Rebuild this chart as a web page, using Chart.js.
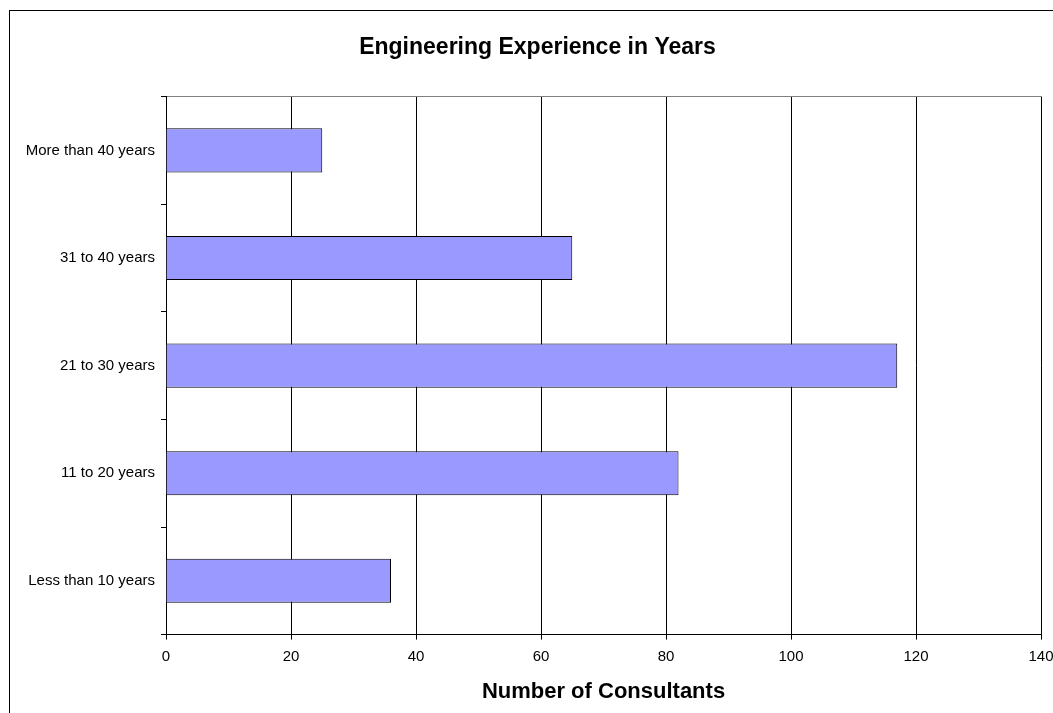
<!DOCTYPE html>
<html>
<head>
<meta charset="utf-8">
<script src="https://cdn.jsdelivr.net/npm/chart.js@4/dist/chart.umd.min.js"></script>
<style>
    body { margin: 0; background: #fff; overflow: hidden; }
    #box {
        position: absolute;
        left: 9px;
        top: 10px;
        width: 1100px;
        height: 740px;
        border: 1px solid #000;
    }
</style>
</head>
<body>
<div id="box"><canvas id="chart" width="1100" height="740"></canvas></div>
<script>
// Data
const categories = ['More than 40 years', '31 to 40 years', '21 to 30 years', '11 to 20 years', 'Less than 10 years'];
const consultants = [25, 65, 117, 82, 36];
const xTicks = [0, 20, 40, 60, 80, 100, 120, 140];

const font = 'Liberation Sans, Arial, sans-serif';

// Centre the title on the box (minus a bit), not on the padded area
const titleWide = {
    id: 'titleWide',
    afterLayout(chart) {
        chart.titleBlock.left = 0;
        chart.titleBlock.right = chart.width - 45;
        chart.titleBlock.width = chart.width - 45;
    }
};

new Chart(document.getElementById('chart'), {
    type: 'bar',
    data: {
        labels: categories,
        datasets: [{
            data: consultants,
            backgroundColor: '#9999ff',
            borderColor: '#000',
            borderWidth: 1,
            categoryPercentage: 1,
            barPercentage: 0.41
        }]
    },
    plugins: [titleWide],
    options: {
        indexAxis: 'y',
        responsive: false,
        animation: false,
        layout: {
            padding: { left: 10, right: 69, top: 0, bottom: 46 }
        },
        plugins: {
            legend: { display: false },
            tooltip: { enabled: false },
            title: {
                display: true,
                text: 'Engineering Experience in Years',
                color: '#000',
                font: { family: font, size: 23, weight: 'bold' },
                padding: { top: 23, bottom: 35 }
            }
        },
        scales: {
            x: {
                type: 'linear',
                min: xTicks[0],
                max: xTicks[xTicks.length - 1],
                afterBuildTicks: s => { s.ticks = xTicks.map(v => ({ value: v })); },
                grid: { color: '#000', tickLength: 5, drawTicks: true },
                border: { color: '#000' },
                ticks: {
                    color: '#000',
                    padding: 8,
                    font: { family: font, size: 15 }
                },
                title: {
                    display: true,
                    text: 'Number of Consultants',
                    color: '#000',
                    font: { family: font, size: 22, weight: 'bold' },
                    padding: { top: 5, bottom: 0 }
                }
            },
            x2: {
                type: 'linear',
                position: 'top',
                grid: { display: false },
                ticks: { display: false },
                border: { color: '#808080' },
                afterFit: s => { s.height = 0; }
            },
            y: {
                grid: { drawOnChartArea: false, color: '#000', tickLength: 5 },
                border: { color: '#000' },
                ticks: {
                    color: '#000',
                    padding: 6,
                    font: { family: font, size: 15 }
                },
                afterFit: s => { s.width = 146; }
            }
        }
    }
});
</script>
</body>
</html>
